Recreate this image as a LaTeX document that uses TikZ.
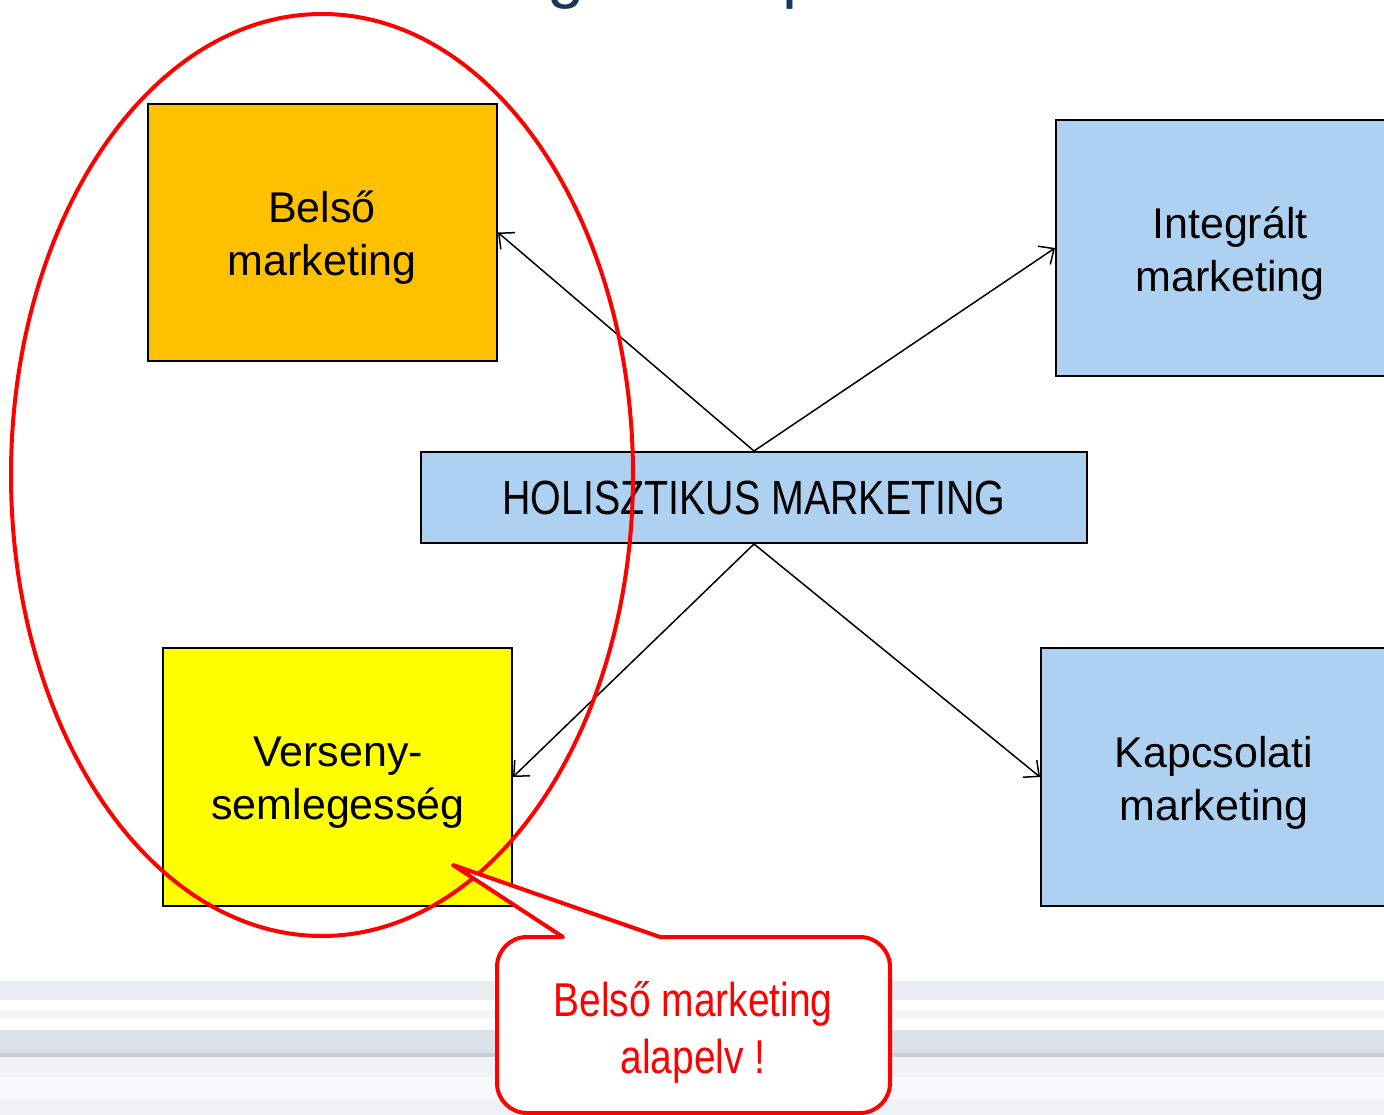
\documentclass[tikz,border=0pt]{standalone}
\usepackage{fontspec}
\setmainfont{Liberation Sans}
\newfontfamily\narrowfont[FakeStretch=0.82]{Liberation Sans}
\usetikzlibrary{arrows.meta}

\definecolor{boxblue}{RGB}{174,209,241}
\definecolor{boxorange}{RGB}{255,192,0}
\definecolor{boxyellow}{RGB}{255,255,0}
\definecolor{titleblue}{RGB}{23,55,94}
\definecolor{stripeA}{RGB}{233,236,243}
\definecolor{stripeB}{RGB}{244,245,242}
\definecolor{stripeC}{RGB}{220,225,231}
\definecolor{stripeD}{RGB}{200,205,214}
\definecolor{stripeE}{RGB}{240,242,245}
\definecolor{stripeF}{RGB}{248,249,250}
\definecolor{stripeG}{RGB}{238,240,244}

\tikzset{
  conceptbox/.style={draw=black, line width=2pt, inner sep=0pt},
  boxlabel/.style={inner sep=0pt, align=center, font=\fontsize{43}{53}\selectfont},
  conn/.style={draw=black, line width=1.5pt,
    -{Straight Barb[length=12pt, width=22pt, line width=1.5pt]}},
  callout/.style={draw=red, line width=4pt, fill=white, line join=round},
}

\begin{document}
\begin{tikzpicture}[x=1pt, y=-1pt]
  \useasboundingbox (0,0) rectangle (1384,1115);
  \fill[white] (0,0) rectangle (1384,1115);

  % slide footer stripes
  \fill[stripeA] (0,981) rectangle (1384,1000);
  \fill[stripeB] (0,1010) rectangle (1384,1018);
  \fill[stripeC] (0,1030) rectangle (1384,1053);
  \fill[stripeD] (0,1053) rectangle (1384,1057);
  \fill[stripeE] (0,1057) rectangle (1384,1077);
  \fill[stripeF] (0,1077) rectangle (1384,1100);
  \fill[stripeG] (0,1100) rectangle (1384,1115);

  % slide title (mostly above the visible area)
  \node[anchor=base west, inner sep=0pt, text=titleblue,
        font=\fontsize{67}{67}\selectfont] (title) at (-48,-4)
        {Holisztikus marketing koncepció};

  % concept boxes
  \node[conceptbox, fill=boxorange, minimum width=349pt, minimum height=257pt]
        (belso) at (322.5,232.5) {};
  \node[boxlabel] (belsoT) at (322,237.5) {Belső\\marketing};
  \node[conceptbox, fill=boxblue, minimum width=348pt, minimum height=256pt]
        (integr) at (1230,248) {};
  \node[boxlabel] (integrT) at (1230,254) {Integrált\\marketing};
  \node[conceptbox, fill=boxblue, minimum width=666pt, minimum height=91pt,
        font=\narrowfont\fontsize{48}{52}\selectfont]
        (hol) at (754,497.5) {HOLISZTIKUS MARKETING};
  \node[conceptbox, fill=boxyellow, minimum width=349pt, minimum height=258pt]
        (verseny) at (337.5,777) {};
  \node[boxlabel] (versenyT) at (338,782.5) {Verseny-\\semlegesség};
  \node[conceptbox, fill=boxblue, minimum width=346pt, minimum height=258pt]
        (kapcs) at (1214,777) {};
  \node[boxlabel] (kapcsT) at (1214,782.5) {Kapcsolati\\marketing};

  % connectors
  \draw[conn] (hol.north) -- (belso.east);
  \draw[conn] (hol.north) -- (integr.west);
  \draw[conn] (hol.south) -- (verseny.east);
  \draw[conn] (hol.south) -- (kapcs.west);

  % highlight ellipse
  \coordinate (ring) at (322,475);
  \draw[red, line width=4pt] (ring) ellipse [x radius=311, y radius=461];

  % callout bubble
  \coordinate (tip) at (453,865);
  \draw[callout] (563,937) -- (tip) -- (660,937) -- (860,937)
    arc[start angle=270, end angle=360, radius=30] -- (890,1083)
    arc[start angle=0, end angle=90, radius=30] -- (527,1113)
    arc[start angle=90, end angle=180, radius=30] -- (497,967)
    arc[start angle=180, end angle=270, radius=30] -- cycle;
  \node[align=center, text=red, inner sep=0pt,
        font=\narrowfont\fontsize{47.5}{57}\selectfont]
        (note) at (693,1032) {Belső marketing\\alapelv !};
\end{tikzpicture}
\end{document}
